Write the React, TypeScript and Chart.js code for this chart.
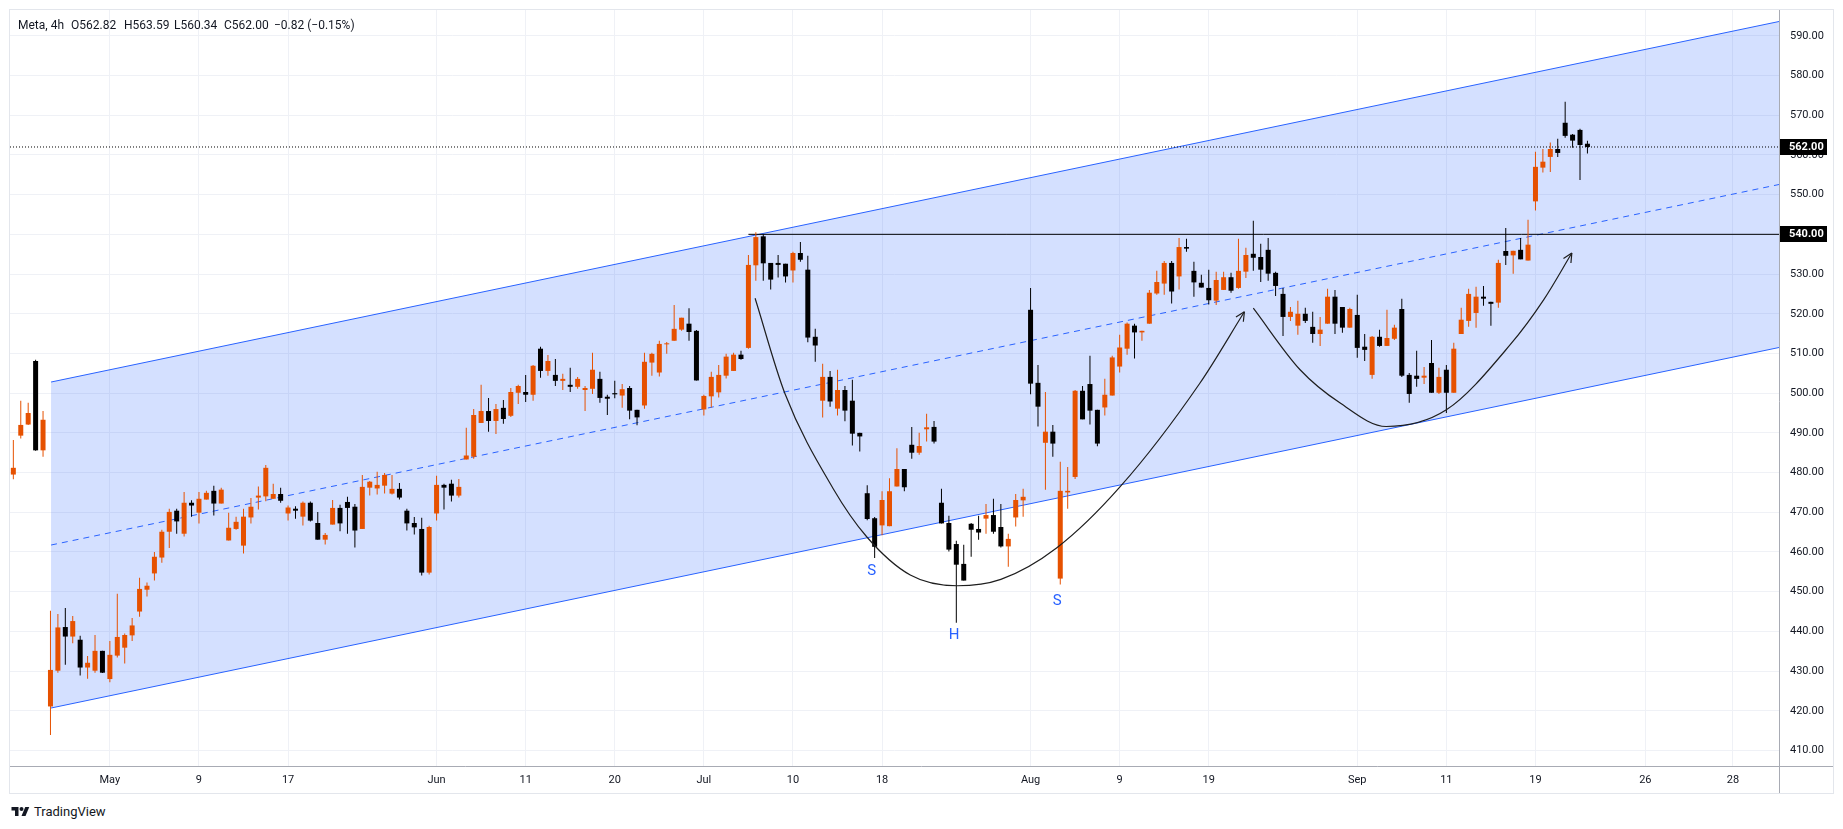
import React, { useEffect, useRef } from 'react';
import { Chart, registerables } from 'chart.js';

Chart.register(...registerables);

// ---------- DATA (4h bars, Meta) ----------
const opens = [
  479.5, 489.3, 492.1, 508.1, 485.6, 421.1, 430.1, 441.1, 438.7, 437.9,
  430.9, 430.1, 435.1, 428.0, 433.9, 435.9, 439.0, 445.0, 450.5, 454.6,
  458.6, 465.1, 470.4, 464.6, 472.4, 469.9, 473.2, 475.4, 472.2, 462.9,
  465.8, 461.6, 468.7, 473.7, 474.0, 473.4, 474.6, 469.7, 470.9, 468.9,
  472.4, 467.3, 463.1, 466.9, 471.1, 472.6, 471.4, 465.8, 476.2, 476.0,
  476.7, 474.7, 475.9, 470.4, 467.3, 465.8, 454.8, 469.7, 476.9, 477.2,
  474.2, 483.3, 484.0, 492.5, 495.5, 493.0, 496.3, 494.3, 500.1, 500.3,
  499.6, 511.2, 505.6, 504.6, 503.1, 502.1, 501.6, 500.8, 501.1, 503.6,
  499.1, 500.0, 499.4, 501.3, 495.8, 496.9, 507.7, 505.2, 512.3, 513.2,
  516.0, 517.5, 515.7, 495.9, 499.2, 500.2, 504.4, 505.6, 509.7, 511.4,
  532.2, 539.5, 532.8, 532.8, 532.6, 530.9, 535.3, 531.1, 514.2, 498.1,
  504.1, 496.1, 500.8, 498.1, 490.0, 474.8, 468.5, 466.7, 466.5, 476.5,
  480.9, 487.0, 485.0, 490.9, 491.5, 472.4, 467.3, 462.0, 457.0, 467.1,
  465.8, 468.4, 469.3, 466.3, 461.4, 468.7, 473.0, 521.0, 502.6, 487.5,
  490.3, 453.3, 475.0, 478.9, 500.6, 502.3, 495.8, 496.4, 499.4, 506.7,
  511.2, 517.0, 515.3, 517.5, 525.1, 527.6, 532.8, 529.4, 536.8, 530.8,
  527.8, 526.5, 523.3, 526.0, 529.2, 526.5, 530.6, 535.1, 534.3, 536.1,
  530.3, 525.0, 519.2, 517.0, 520.0, 516.7, 514.9, 517.5, 524.3, 521.7,
  516.5, 519.7, 511.7, 504.6, 514.2, 511.9, 513.7, 521.2, 504.6, 504.4,
  503.9, 507.6, 500.1, 505.9, 500.1, 514.9, 518.2, 520.2, 524.3, 523.0,
  522.8, 535.8, 534.7, 536.1, 533.4, 548.3, 556.8, 559.5, 561.5, 568.1,
  565.1, 566.3, 562.82,
];
const highs = [
  488.2, 498.1, 497.6, 508.4, 495.5, 445.2, 444.4, 445.9, 443.9, 438.9,
  433.8, 439.1, 435.1, 437.6, 449.5, 439.5, 443.4, 453.5, 452.3, 460.0,
  465.6, 470.9, 470.9, 475.1, 473.0, 475.1, 475.4, 476.7, 476.2, 469.9,
  468.9, 470.9, 473.6, 476.5, 481.9, 477.2, 476.2, 471.7, 471.5, 472.7,
  472.7, 470.1, 464.8, 473.1, 471.9, 473.9, 472.1, 479.4, 477.9, 480.2,
  479.9, 479.4, 477.4, 470.9, 468.8, 468.6, 466.6, 479.2, 477.2, 478.2,
  478.4, 491.3, 496.0, 502.1, 498.8, 497.3, 498.3, 501.3, 502.1, 504.6,
  507.1, 511.7, 509.6, 508.6, 504.9, 506.4, 504.1, 501.8, 510.2, 505.4,
  499.6, 503.1, 502.3, 501.8, 495.8, 510.2, 510.2, 513.2, 512.9, 522.2,
  519.0, 521.4, 515.9, 499.6, 505.4, 507.1, 509.9, 510.2, 510.7, 534.8,
  540.5, 540.0, 532.8, 534.8, 532.6, 535.6, 538.1, 534.6, 516.2, 507.4,
  505.6, 505.9, 501.8, 503.4, 490.0, 476.8, 468.8, 475.3, 478.6, 486.1,
  480.9, 491.5, 490.0, 494.8, 493.0, 475.9, 469.1, 462.8, 461.8, 467.3,
  469.1, 472.1, 473.4, 472.1, 464.6, 474.6, 475.9, 526.5, 507.1, 500.3,
  492.0, 482.7, 481.4, 500.8, 501.8, 509.4, 495.8, 503.6, 509.4, 514.7,
  517.8, 517.5, 515.7, 526.0, 530.8, 533.3, 533.3, 539.1, 538.9, 533.1,
  529.8, 531.1, 530.6, 530.6, 530.3, 538.9, 536.6, 543.4, 537.6, 539.1,
  530.6, 526.5, 521.7, 523.3, 521.5, 520.5, 519.2, 526.3, 526.0, 521.7,
  521.5, 524.8, 514.9, 514.4, 516.0, 521.0, 517.2, 523.8, 505.1, 510.7,
  506.6, 513.4, 506.4, 507.1, 512.7, 521.5, 526.3, 526.8, 527.0, 523.0,
  533.6, 541.6, 535.85, 539.1, 543.7, 560.8, 561.5, 563.1, 564.1, 573.4,
  565.3, 566.6, 563.59,
];
const lows = [
  478.3, 488.6, 492.0, 485.5, 484.0, 413.9, 429.6, 431.6, 437.0, 428.9,
  428.1, 429.6, 429.5, 427.2, 433.4, 431.9, 437.6, 443.7, 448.8, 452.8,
  457.3, 461.0, 464.6, 463.9, 468.9, 467.2, 473.2, 469.2, 472.2, 462.9,
  465.6, 459.6, 467.2, 470.7, 472.8, 473.4, 472.4, 467.9, 468.4, 466.7,
  467.7, 463.1, 461.9, 466.9, 465.2, 464.6, 461.1, 465.8, 474.2, 474.5,
  474.7, 474.5, 473.2, 465.4, 464.4, 454.1, 454.3, 467.9, 470.7, 472.7,
  473.7, 483.3, 483.5, 492.5, 490.3, 489.7, 492.3, 494.0, 497.3, 497.8,
  498.1, 503.9, 504.4, 501.8, 500.8, 500.3, 501.1, 495.5, 499.8, 497.6,
  494.5, 498.7, 496.3, 493.4, 491.9, 496.1, 504.4, 504.2, 509.9, 513.2,
  515.7, 513.2, 503.2, 494.4, 496.4, 498.9, 503.7, 505.6, 508.4, 511.2,
  528.3, 528.3, 526.1, 529.1, 527.9, 527.9, 533.1, 512.8, 507.9, 493.9,
  496.6, 494.4, 492.9, 486.8, 485.3, 468.0, 458.5, 464.2, 466.5, 476.5,
  475.3, 483.5, 484.5, 487.8, 487.3, 467.2, 460.1, 442.2, 452.8, 458.8,
  463.1, 464.6, 464.6, 461.1, 456.3, 466.4, 468.9, 499.7, 491.6, 475.7,
  484.0, 451.8, 470.9, 478.4, 493.4, 492.1, 486.6, 494.4, 499.4, 505.2,
  509.7, 508.7, 513.2, 517.5, 524.8, 524.8, 522.6, 526.1, 535.6, 524.3,
  526.6, 522.3, 522.2, 526.0, 525.3, 526.3, 529.0, 530.8, 528.0, 528.3,
  524.5, 514.4, 518.2, 514.7, 517.7, 512.7, 511.9, 517.5, 514.9, 515.2,
  516.5, 508.9, 508.1, 503.6, 511.7, 511.9, 513.4, 504.1, 497.6, 501.6,
  502.3, 500.1, 499.8, 495.0, 500.1, 514.9, 516.7, 516.5, 522.0, 517.0,
  521.5, 532.3, 530.1, 533.7, 533.4, 546.0, 555.6, 555.7, 559.5, 564.3,
  561.8, 553.7, 560.34,
];
const closes = [
  481.2, 492.0, 495.0, 485.6, 493.3, 430.3, 441.0, 438.7, 442.6, 430.9,
  432.1, 435.1, 429.6, 434.1, 438.6, 439.1, 441.5, 450.7, 451.5, 458.8,
  465.1, 470.1, 467.7, 472.4, 471.7, 473.4, 474.9, 472.2, 475.7, 466.1,
  467.6, 468.9, 471.4, 474.2, 481.2, 474.6, 472.9, 471.2, 470.4, 472.4,
  467.9, 463.1, 464.3, 471.1, 467.2, 471.1, 465.4, 476.4, 477.7, 476.9,
  479.4, 475.9, 473.7, 467.2, 466.2, 454.8, 466.3, 476.9, 476.2, 474.2,
  476.4, 484.3, 494.5, 495.5, 493.0, 496.0, 493.5, 500.3, 501.8, 499.6,
  506.9, 505.6, 508.1, 503.1, 503.6, 501.6, 503.6, 501.3, 505.9, 498.8,
  498.6, 499.7, 501.0, 495.6, 493.9, 507.9, 509.9, 512.4, 512.5, 516.2,
  519.0, 515.4, 503.2, 499.3, 504.1, 504.6, 509.2, 509.7, 508.6, 532.3,
  539.3, 532.7, 528.6, 532.3, 529.4, 535.3, 533.6, 514.0, 512.0, 504.1,
  497.9, 500.8, 495.6, 489.8, 489.1, 468.3, 461.3, 473.1, 475.3, 480.9,
  476.3, 485.0, 486.7, 491.4, 487.8, 467.2, 460.6, 456.8, 452.8, 465.6,
  464.9, 469.3, 465.1, 461.4, 463.3, 473.1, 473.9, 502.4, 496.6, 490.3,
  487.3, 475.4, 475.4, 500.6, 493.4, 495.6, 487.3, 499.6, 509.0, 511.5,
  517.5, 515.3, 515.7, 525.3, 528.0, 532.8, 525.6, 536.8, 536.4, 527.9,
  526.6, 523.4, 528.5, 529.2, 525.8, 530.8, 534.8, 534.1, 531.1, 530.1,
  527.0, 519.2, 520.5, 520.0, 518.2, 514.9, 516.0, 524.3, 517.5, 516.5,
  521.2, 511.4, 510.9, 514.2, 511.9, 513.9, 516.5, 504.4, 499.8, 503.6,
  504.4, 500.1, 504.1, 500.1, 511.2, 518.5, 525.0, 524.3, 523.8, 522.5,
  532.8, 534.6, 535.85, 533.7, 537.4, 557.0, 558.3, 561.5, 560.5, 564.8,
  563.6, 562.5, 562.0,
];

// time axis (bar index, 1-based) and labels
const xTickPositions = [14, 26, 38, 58, 70, 82, 94, 106, 118, 138, 150, 162, 182, 194, 206, 220.8, 232.6];
const xTickLabels = ['May', '9', '17', 'Jun', '11', '20', 'Jul', '10', '18', 'Aug', '9', '19', 'Sep', '11', '19', '26', '28'];
const yTickValues = [410, 420, 430, 440, 450, 460, 470, 480, 490, 500, 510, 520, 530, 540, 550, 560, 570, 580, 590];

// drawings
const channelX = [6.08, 238.8];
const channelUpper = [502.8, 593.6];
const channelLower = [420.7, 511.5];
const channelMid = [461.75, 552.55];
const resistanceX = [100, 238.8];
const resistanceLevel = 540;
const curve1X = [100.9, 104.9, 111.4, 115.9, 121.8, 128.1, 134.0, 141.5, 150.1, 160.8, 166.8];
const curve1Y = [523.9, 500.0, 476.0, 463.9, 454.2, 451.5, 453.1, 461.0, 476.5, 502.5, 520.5];
const curve2X = [168.0, 174.3, 179.7, 185.9, 194.0, 202.6, 207.1, 210.9];
const curve2Y = [521.4, 505.9, 497.5, 491.6, 495.8, 512.2, 523.5, 535.3];
const patternLabels = ['S', 'H', 'S'];
const patternLabelX = [116.6, 127.7, 141.6];
const patternLabelY = [455.2, 439.1, 447.7];

const X_MIN = 0.55;
const X_MAX = 238.8;
const Y_MIN = 406.1;
const Y_MAX = 596.5;

const UP = '#e65100';
const DOWN = '#000000';
const GRID = '#eff1f6';
const TEXT = '#131722';
const BLUE = '#2962ff';
const FONT = "Roboto, 'Noto Sans', sans-serif";

const CURVE_DATASETS = [5, 6];

const overlayPlugin = {
  id: 'overlay',
  afterDatasetsDraw(chart: any) {
    const { ctx, scales } = chart;
    const x = scales.x;
    const y = scales.y;
    ctx.save();
    // arrowheads at the end of the curves
    CURVE_DATASETS.forEach((di) => {
      const pts = chart.getDatasetMeta(di).data;
      const last = pts[pts.length - 1];
      const prev = pts[pts.length - 2];
      let dx = last.x - (last.cp1x ?? prev.x);
      let dy = last.y - (last.cp1y ?? prev.y);
      const len = Math.hypot(dx, dy) || 1;
      dx /= len;
      dy /= len;
      const ang = Math.atan2(dy, dx);
      const L = 10;
      ctx.strokeStyle = '#1e1e1e';
      ctx.lineWidth = 1.2;
      ctx.beginPath();
      [ang + Math.PI - 0.45, ang + Math.PI + 0.45].forEach((a) => {
        ctx.moveTo(last.x, last.y);
        ctx.lineTo(last.x + Math.cos(a) * L, last.y + Math.sin(a) * L);
      });
      ctx.stroke();
    });
    // S H S labels
    ctx.fillStyle = BLUE;
    ctx.font = `15px ${FONT}`;
    ctx.textAlign = 'center';
    ctx.textBaseline = 'middle';
    patternLabels.forEach((t, i) => {
      ctx.fillText(t, x.getPixelForValue(patternLabelX[i]), y.getPixelForValue(patternLabelY[i]));
    });
    ctx.restore();
  },
  afterDraw(chart: any) {
    const { ctx, chartArea, scales, width, height } = chart;
    const y = scales.y;
    ctx.save();
    // axis lines
    ctx.strokeStyle = '#a8abb4';
    ctx.lineWidth = 1;
    ctx.beginPath();
    ctx.moveTo(0, Math.round(chartArea.bottom) + 0.5);
    ctx.lineTo(width, Math.round(chartArea.bottom) + 0.5);
    ctx.moveTo(Math.round(chartArea.right) + 0.5, 0);
    ctx.lineTo(Math.round(chartArea.right) + 0.5, height);
    ctx.stroke();
    // price boxes
    const lastClose = closes[closes.length - 1];
    [lastClose, resistanceLevel].forEach((v) => {
      const py = y.getPixelForValue(v);
      ctx.fillStyle = '#000000';
      ctx.fillRect(chartArea.right + 1, Math.round(py - 8), 47, 16);
      ctx.fillStyle = '#ffffff';
      ctx.font = `bold 11px ${FONT}`;
      ctx.textAlign = 'left';
      ctx.textBaseline = 'middle';
      ctx.fillText(v.toFixed(2), chartArea.right + 10, py);
    });
    ctx.restore();
  },
};

export default function App() {
  const ref = useRef<HTMLCanvasElement>(null);

  useEffect(() => {
    Chart.defaults.font.family = FONT;
    const colors = opens.map((o, i) => (closes[i] >= o ? UP : DOWN));
    const line = (xs: number[], ys: number[]) => xs.map((v, i) => ({ x: v, y: ys[i] }));
    const lastClose = closes[closes.length - 1];

    const chart = new Chart(ref.current as HTMLCanvasElement, {
      type: 'bar',
      data: {
        datasets: [
          {
            type: 'line',
            data: line(channelX, channelUpper),
            borderColor: BLUE,
            borderWidth: 1,
            pointRadius: 0,
            fill: '+1',
            backgroundColor: 'rgba(41,98,255,0.2)',
            order: 10,
          } as any,
          {
            type: 'line',
            data: line(channelX, channelLower),
            borderColor: BLUE,
            borderWidth: 1,
            pointRadius: 0,
            fill: false,
            order: 10,
          },
          {
            type: 'line',
            data: line(channelX, channelMid),
            borderColor: BLUE,
            borderWidth: 1,
            borderDash: [6, 5],
            pointRadius: 0,
            fill: false,
            order: 9,
          },
          {
            type: 'line',
            data: line(resistanceX, [resistanceLevel, resistanceLevel]),
            borderColor: '#000000',
            borderWidth: 1,
            pointRadius: 0,
            fill: false,
            order: 3,
          },
          {
            type: 'line',
            data: line([X_MIN, X_MAX], [lastClose, lastClose]),
            borderColor: '#000000',
            borderWidth: 1,
            borderDash: [1, 2],
            pointRadius: 0,
            fill: false,
            order: 3,
          },
          {
            type: 'line',
            data: line(curve1X, curve1Y),
            borderColor: '#1e1e1e',
            borderWidth: 1.2,
            pointRadius: 0,
            cubicInterpolationMode: 'monotone',
            fill: false,
            order: 0,
          },
          {
            type: 'line',
            data: line(curve2X, curve2Y),
            borderColor: '#1e1e1e',
            borderWidth: 1.2,
            pointRadius: 0,
            cubicInterpolationMode: 'monotone',
            fill: false,
            order: 0,
          },
          {
            type: 'bar',
            data: opens.map((_, i) => ({ x: i + 1, y: [lows[i], highs[i]] })) as any,
            backgroundColor: colors,
            barThickness: 1,
            grouped: false,
            inflateAmount: 0,
            borderWidth: 0,
            order: 2,
          } as any,
          {
            type: 'bar',
            data: opens.map((o, i) => ({ x: i + 1, y: [o, closes[i]] })) as any,
            backgroundColor: colors,
            barThickness: 5,
            minBarLength: 1,
            grouped: false,
            inflateAmount: 0,
            borderWidth: 0,
            order: 1,
          } as any,
        ],
      },
      options: {
        animation: false,
        responsive: false,
        maintainAspectRatio: false,
        events: [],
        layout: { padding: 0 },
        plugins: { legend: { display: false }, tooltip: { enabled: false } },
        scales: {
          x: {
            type: 'linear',
            min: X_MIN,
            max: X_MAX,
            offset: false,
            grid: { color: GRID, offset: false, drawTicks: false },
            border: { display: false },
            afterBuildTicks: (s: any) => {
              s.ticks = xTickPositions.map((v) => ({ value: v }));
            },
            afterFit: (s: any) => {
              s.height = 27;
              s.paddingLeft = 0;
              s.paddingRight = 0;
              s.paddingTop = 0;
              s.paddingBottom = 0;
            },
            ticks: {
              autoSkip: false,
              maxRotation: 0,
              padding: 8,
              color: TEXT,
              font: { size: 11 },
              callback: (_v: any, i: number) => xTickLabels[i],
            },
          } as any,
          y: {
            type: 'linear',
            position: 'right',
            min: Y_MIN,
            max: Y_MAX,
            beginAtZero: false,
            grid: { color: GRID, drawTicks: false },
            border: { display: false },
            afterBuildTicks: (s: any) => {
              s.ticks = yTickValues.map((v) => ({ value: v }));
            },
            afterFit: (s: any) => {
              s.width = 54;
              s.paddingTop = 0;
              s.paddingBottom = 0;
              s.paddingLeft = 0;
              s.paddingRight = 0;
            },
            ticks: {
              padding: 11,
              color: TEXT,
              font: { size: 11 },
              callback: (v: any) => Number(v).toFixed(2),
            },
          } as any,
        },
      },
      plugins: [overlayPlugin],
    });
    return () => chart.destroy();
  }, []);

  const n = opens.length - 1;
  const chg = closes[n] - opens[n];
  const pct = (chg / opens[n]) * 100;
  const fmt = (v: number) => (v < 0 ? '\u2212' : '') + Math.abs(v).toFixed(2);
  const header: [string, number][] = [
    ['Meta, 4h', 18],
    [`O${opens[n].toFixed(2)}`, 71],
    [`H${highs[n].toFixed(2)}`, 124],
    [`L${lows[n].toFixed(2)}`, 174],
    [`C${closes[n].toFixed(2)}`, 224],
    [`${fmt(chg)} (${fmt(pct)}%)`, 274],
  ];

  return (
    <div
      style={{
        position: 'absolute',
        left: 0,
        top: 0,
        width: 1843,
        height: 829,
        background: '#ffffff',
        overflow: 'hidden',
        fontFamily: FONT,
      }}
    >
      <div
        style={{
          position: 'absolute',
          left: 9,
          top: 9,
          width: 1823,
          height: 783,
          border: '1px solid #e3e6ec',
        }}
      />
      <canvas
        ref={ref}
        width={1823}
        height={783}
        style={{ position: 'absolute', left: 10, top: 10, width: 1823, height: 783 }}
      />
      {header.map(([t, left], i) => (
        <div
          key={i}
          style={{
            position: 'absolute',
            left,
            top: 17,
            lineHeight: '16px',
            fontSize: 12,
            color: TEXT,
            whiteSpace: 'nowrap',
          }}
        >
          {t}
        </div>
      ))}
      <div style={{ position: 'absolute', left: 11, top: 804, display: 'flex', alignItems: 'center', gap: 4 }}>
        <svg width="19" height="14" viewBox="0 0 36 28">
          <path d="M14 22H7V11H0V4h14v18z" fill={TEXT} />
          <circle cx="20" cy="8" r="4" fill={TEXT} />
          <path d="M28 22h-8l7.5-18h8L28 22z" fill={TEXT} />
        </svg>
        <span style={{ fontSize: 13, color: TEXT, lineHeight: '16px' }}>TradingView</span>
      </div>
    </div>
  );
}
